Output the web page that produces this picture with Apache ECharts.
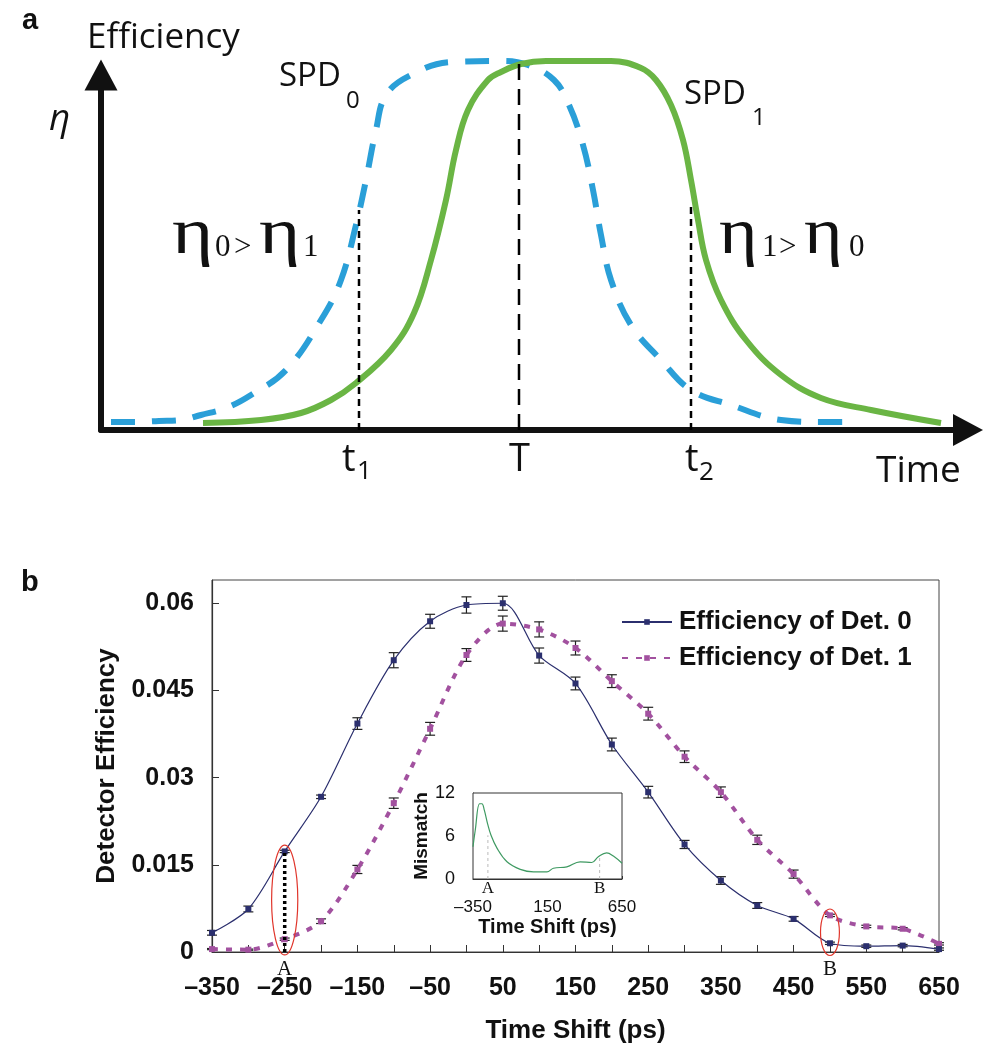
<!DOCTYPE html>
<html>
<head>
<meta charset="utf-8">
<script src="https://cdn.jsdelivr.net/npm/echarts@6/dist/echarts.min.js"></script>
<style>
html, body { margin: 0; padding: 0; background: #fff; }
#main { width: 1002px; height: 1063px; }
</style>
</head>
<body>
<div id="main"></div>
<script>
// ---- panel a: schematic efficiency curves (arbitrary units) ----
const spd0 = [[10,8],[34,8],[58,9],[80,10],[100,15],[125,22],[150,35],[185,60],[220,110],[240,150],[255,205],[265,250],[275,300],[285,335],[310,355],[350,368],[400,369],[427,365],[453,350],[468,325],[482,285],[492,240],[500,195],[510,150],[530,105],[560,70],[590,40],[630,25],[680,10],[720,8],[747,8]];
const spd1 = [[102,7],[160,10],[200,17],[230,30],[255,47],[290,80],[313,117],[330,170],[345,230],[355,280],[367,320],[387,350],[400,358],[420,366],[445,369],[510,369],[540,362],[555,350],[570,325],[582,290],[590,250],[597,210],[605,170],[620,130],[645,90],[680,55],[720,32],[770,20],[840,7]];
const markT1 = [[258,0],[258,220]];
const markT  = [[418,0],[418,368]];
const markT2 = [[590,0],[590,223]];

// ---- panel b: measured detector efficiency ----
const shifts = [-350,-300,-250,-200,-150,-100,-50,0,50,100,150,200,250,300,350,400,450,500,550,600,650];
const det0    = [0.0033,0.0074,0.0173,0.0267,0.0393,0.0502,0.0569,0.0597,0.0600,0.0510,0.0462,0.0357,0.0275,0.0185,0.0123,0.0080,0.0057,0.0015,0.0010,0.0011,0.0005];
const det0Err = [0.0004,0.0005,0.0002,0.0003,0.0010,0.0013,0.0012,0.0014,0.0012,0.0013,0.0011,0.0011,0.0010,0.0007,0.00066,0.0005,0.0004,0.0002,0.0002,0.0002,0.0002];
const det1    = [0.0005,0.0004,0.0022,0.0053,0.0142,0.0256,0.0384,0.0511,0.0565,0.0555,0.0523,0.0466,0.0410,0.0336,0.0275,0.0193,0.0134,0.0063,0.0044,0.0040,0.0014];
const det1Err = [0.0001,0.0001,0.0002,0.0004,0.0007,0.0009,0.0011,0.0011,0.0013,0.0013,0.0012,0.0011,0.0011,0.0010,0.0009,0.0008,0.0007,0.0002,0.0002,0.0002,0.0002];
const yTicks = [0, 0.015, 0.03, 0.045, 0.06];

// highlighted points A and B
const ringX = [-250, 500];
const ringLow = [-0.0005, -0.0006];
const ringHigh = [0.0184, 0.0074];
const ringHalf = [18, 13];
const ringNames = ['A', 'B'];

// inset: mismatch vs time shift
const insetT = [-350,-335,-306,-290,-274,-252,-229,-189,-122,-33,56,146,190,280,369,447,491,547,592,650];
const insetM = [4.5,6.8,10.5,10.5,9.6,7.7,6.1,4.3,2.4,1.35,1.0,1.0,1.5,1.7,2.4,2.3,3.1,3.65,3.2,2.2];
const insetMarkX = [-250, 500];
const insetMarkTop = [6.1, 3.0];

const SANS = '"Liberation Sans", Arial, sans-serif';
const SOFT = '"Open Sans", sans-serif';
const SERIF = '"Liberation Serif", serif';
const INK = '#111';

const chart = echarts.init(document.getElementById('main'));

function txt(x, y, text, size, family, extra, scaleX) {
  return {
    type: 'text', x: x, y: y, scaleX: scaleX || 1,
    style: Object.assign({ text: text, fontSize: size, fontFamily: family, fill: INK, align: 'left', verticalAlign: 'middle' }, extra || {})
  };
}

function errRender(params, api) {
  const x = api.value(0);
  const lo = api.coord([x, api.value(1)]);
  const hi = api.coord([x, api.value(2)]);
  const w = 5;
  const st = { stroke: '#222', lineWidth: 1.2 };
  return { type: 'group', children: [
    { type: 'line', shape: { x1: lo[0], y1: lo[1], x2: hi[0], y2: hi[1] }, style: st },
    { type: 'line', shape: { x1: lo[0] - w, y1: lo[1], x2: lo[0] + w, y2: lo[1] }, style: st },
    { type: 'line', shape: { x1: hi[0] - w, y1: hi[1], x2: hi[0] + w, y2: hi[1] }, style: st }
  ]};
}

function ringRender(params, api) {
  const i = params.dataIndex;
  const x = api.value(0);
  const lo = api.coord([x, api.value(1)]);
  const hi = api.coord([x, api.value(2)]);
  const side = api.coord([x + ringHalf[i], api.value(1)]);
  const base = api.coord([x, 0]);
  const kids = [
    { type: 'ellipse', shape: { cx: lo[0], cy: (lo[1] + hi[1]) / 2, rx: side[0] - lo[0], ry: (lo[1] - hi[1]) / 2 },
      style: { fill: 'none', stroke: '#e0352b', lineWidth: 1.2 } },
    { type: 'text', style: { text: ringNames[i], x: base[0], y: base[1] + 17, align: 'center', verticalAlign: 'middle',
      fontSize: 21, fontFamily: SERIF, fill: INK } }
  ];
  if (i === 0) {
    const top = api.coord([x, det0[shifts.indexOf(x)]]);
    kids.unshift({ type: 'line', shape: { x1: base[0], y1: base[1], x2: top[0], y2: top[1] },
      style: { stroke: '#000', lineWidth: 3.5, lineDash: [3, 3] } });
  }
  return { type: 'group', children: kids };
}

function insetMarkRender(params, api) {
  const i = params.dataIndex;
  const x = api.value(0);
  const b = api.coord([x, 0]);
  const t = api.coord([x, api.value(1)]);
  return { type: 'group', children: [
    { type: 'line', shape: { x1: b[0], y1: b[1], x2: t[0], y2: t[1] }, style: { stroke: '#bbb', lineWidth: 1, lineDash: [3, 3] } },
    { type: 'text', style: { text: ringNames[i], x: b[0], y: b[1] + 10, align: 'center', verticalAlign: 'middle',
      fontSize: 17, fontFamily: SERIF, fill: INK } }
  ]};
}

const fmtShift = v => ((v + 350) % 100 === 0 ? String(v).replace('-', '\u2013') : '');

const option = {
  animation: false,
  backgroundColor: '#fff',
  textStyle: { fontFamily: SANS, color: INK },
  grid: [
    { left: 101, top: 75, width: 867, height: 355 },
    { left: 212, top: 580, width: 727, height: 372, show: true, borderColor: '#444', borderWidth: 1 },
    { left: 473, top: 793, width: 149, height: 86, show: true, borderColor: '#333', borderWidth: 1, backgroundColor: '#fff', z: 5 }
  ],
  xAxis: [
    { gridIndex: 0, type: 'value', min: 0, max: 867,
      axisLine: { lineStyle: { color: '#111', width: 6 }, symbol: ['none', 'triangle'], symbolSize: [32, 30] },
      axisTick: { show: false }, axisLabel: { show: false }, splitLine: { show: false } },
    { gridIndex: 1, type: 'value', min: -350, max: 650, interval: 50,
      name: 'Time Shift (ps)', nameLocation: 'middle', nameGap: 66,
      nameTextStyle: { fontSize: 26, fontWeight: 'bold', color: INK },
      axisLine: { onZero: false, lineStyle: { color: '#333', width: 1.2 } },
      axisTick: { inside: true, length: 7, lineStyle: { color: '#333' } },
      axisLabel: { formatter: fmtShift, fontSize: 25, fontWeight: 'bold', color: INK, margin: 24 },
      splitLine: { show: false } },
    { gridIndex: 2, type: 'value', min: -350, max: 650, interval: 500,
      name: 'Time Shift (ps)', nameLocation: 'middle', nameGap: 38,
      nameTextStyle: { fontSize: 20, fontWeight: 'bold', color: INK },
      axisLine: { onZero: false, lineStyle: { color: '#333', width: 1 } },
      axisTick: { inside: true, length: 3, lineStyle: { color: '#333' } },
      axisLabel: { formatter: v => String(v).replace('-', '\u2013'), fontSize: 17, color: INK, margin: 20 },
      splitLine: { show: false } }
  ],
  yAxis: [
    { gridIndex: 0, type: 'value', min: 0, max: 355,
      axisLine: { lineStyle: { color: '#111', width: 6 }, symbol: ['none', 'triangle'], symbolSize: [33, 31] },
      axisTick: { show: false }, axisLabel: { show: false }, splitLine: { show: false } },
    { gridIndex: 1, type: 'value', min: 0, max: 0.064, interval: 0.015,
      name: 'Detector Efficiency', nameLocation: 'middle', nameGap: 92,
      nameTextStyle: { fontSize: 26, fontWeight: 'bold', color: INK },
      axisLine: { show: true, onZero: false, lineStyle: { color: '#333', width: 1.2 } },
      axisTick: { inside: true, length: 7, lineStyle: { color: '#333' } },
      axisLabel: { showMaxLabel: false, fontSize: 25, fontWeight: 'bold', color: INK, margin: 18,
        formatter: v => (yTicks.some(t => Math.abs(t - v) < 1e-9) ? String(parseFloat(v.toFixed(3))) : '') },
      splitLine: { show: false } },
    { gridIndex: 2, type: 'value', min: 0, max: 12, interval: 6,
      name: 'Mismatch', nameLocation: 'middle', nameGap: 36,
      nameTextStyle: { fontSize: 19, fontWeight: 'bold', color: INK },
      axisLine: { show: true, onZero: false, lineStyle: { color: '#333', width: 1 } },
      axisTick: { inside: true, length: 3, lineStyle: { color: '#333' } },
      axisLabel: { fontSize: 18, color: INK, margin: 18 },
      splitLine: { show: false } }
  ],
  legend: {
    orient: 'vertical', left: 616, top: 604, itemGap: 10, itemWidth: 50, itemHeight: 7,
    data: ['Efficiency of Det. 0', 'Efficiency of Det. 1'],
    textStyle: { fontSize: 26, fontWeight: 'bold', color: INK, fontFamily: SANS, padding: [0, 0, 0, 2] }
  },
  series: [
    // panel a
    { type: 'line', xAxisIndex: 0, yAxisIndex: 0, data: spd0, smooth: 0.4, symbol: 'none', clip: false,
      lineStyle: { color: '#2a9fd8', width: 6, type: [24, 17], cap: 'butt' } },
    { type: 'line', xAxisIndex: 0, yAxisIndex: 0, data: spd1, smooth: 0.4, symbol: 'none', clip: false,
      lineStyle: { color: '#6ab544', width: 6 } },
    { type: 'line', xAxisIndex: 0, yAxisIndex: 0, data: markT1, symbol: 'none', z: 4,
      lineStyle: { color: '#000', width: 2.5, type: [7, 5] } },
    { type: 'line', xAxisIndex: 0, yAxisIndex: 0, data: markT, symbol: 'none', z: 4, clip: false,
      lineStyle: { color: '#000', width: 2.5, type: [16, 9] } },
    { type: 'line', xAxisIndex: 0, yAxisIndex: 0, data: markT2, symbol: 'none', z: 4,
      lineStyle: { color: '#000', width: 2.5, type: [7, 5] } },
    // panel b
    { type: 'custom', xAxisIndex: 1, yAxisIndex: 1, renderItem: errRender, z: 2,
      encode: { x: 0, y: [1, 2] },
      data: shifts.map((t, i) => [t, det1[i] - det1Err[i], det1[i] + det1Err[i]]) },
    { type: 'custom', xAxisIndex: 1, yAxisIndex: 1, renderItem: errRender, z: 2,
      encode: { x: 0, y: [1, 2] },
      data: shifts.map((t, i) => [t, det0[i] - det0Err[i], det0[i] + det0Err[i]]) },
    { name: 'Efficiency of Det. 1', type: 'line', xAxisIndex: 1, yAxisIndex: 1, z: 3,
      data: shifts.map((t, i) => [t, det1[i]]), smooth: 0.3,
      symbol: 'rect', symbolSize: 6, itemStyle: { color: '#a2519f' },
      lineStyle: { color: '#a2519f', width: 4, type: [6, 8], cap: 'butt' } },
    { name: 'Efficiency of Det. 0', type: 'line', xAxisIndex: 1, yAxisIndex: 1, z: 4,
      data: shifts.map((t, i) => [t, det0[i]]), smooth: 0.3,
      symbol: 'rect', symbolSize: 6, itemStyle: { color: '#2b2f6e' },
      lineStyle: { color: '#2b2f6e', width: 1.2 } },
    { type: 'custom', xAxisIndex: 1, yAxisIndex: 1, renderItem: ringRender, z: 6, clip: false,
      encode: { x: 0, y: [1, 2] },
      data: ringX.map((x, i) => [x, ringLow[i], ringHigh[i]]) },
    // inset
    { type: 'custom', xAxisIndex: 2, yAxisIndex: 2, renderItem: insetMarkRender, z: 6, clip: false,
      encode: { x: 0, y: 1 },
      data: insetMarkX.map((x, i) => [x, insetMarkTop[i]]) },
    { type: 'line', xAxisIndex: 2, yAxisIndex: 2, z: 7, data: insetT.map((t, i) => [t, insetM[i]]),
      smooth: 0.4, symbol: 'none', lineStyle: { color: '#3f9a62', width: 1.2 } }
  ],
  graphic: [
    txt(22, 21, 'a', 29, SANS, { fontWeight: 'bold' }),
    txt(21, 583, 'b', 29, SANS, { fontWeight: 'bold' }),
    txt(87, 38, 'Efficiency', 35, SOFT),
    txt(49, 119, '\u03b7', 37, SOFT, { fontStyle: 'italic' }),
    txt(279, 77, 'SPD', 33, SOFT),
    txt(346, 101, '0', 24, SOFT),
    txt(684, 95, 'SPD', 33, SOFT),
    txt(752, 118, '1', 24, SOFT),
    txt(172, 236, '\u03b7', 66, SERIF, null, 1.2),
    txt(215, 248, '0', 31, SERIF),
    txt(234, 248, '>', 31, SERIF),
    txt(259, 236, '\u03b7', 66, SERIF, null, 1.2),
    txt(303, 248, '1', 31, SERIF),
    txt(719, 236, '\u03b7', 66, SERIF, null, 1.12),
    txt(762, 248, '1', 31, SERIF),
    txt(779, 248, '>', 31, SERIF),
    txt(804, 236, '\u03b7', 66, SERIF, null, 1.12),
    txt(849, 248, '0', 31, SERIF),
    txt(876, 471, 'Time', 37, SOFT),
    txt(342, 460, 't', 38, SOFT),
    txt(357, 472, '1', 26, SOFT),
    txt(509, 460, 'T', 38, SOFT),
    txt(685, 460, 't', 38, SOFT),
    txt(699, 473, '2', 26, SOFT)
  ]
};

chart.setOption(option);
</script>
</body>
</html>
